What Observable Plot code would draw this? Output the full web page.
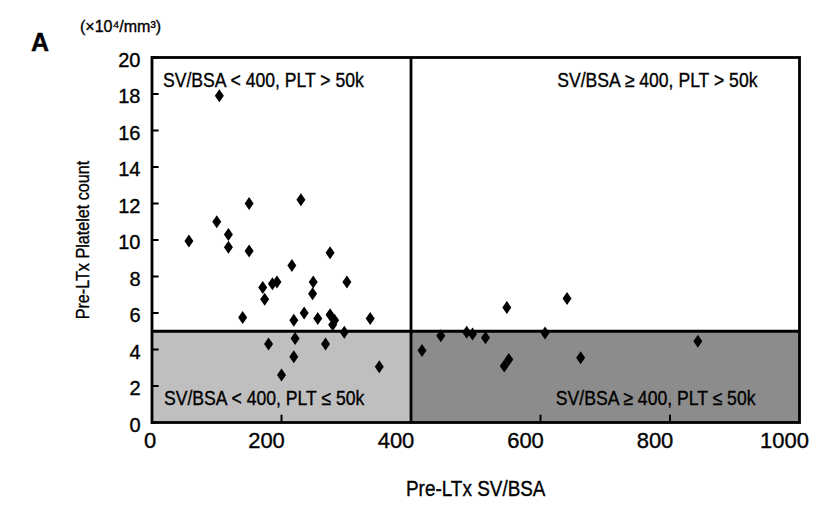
<!DOCTYPE html>
<html><head><meta charset="utf-8">
<script src="https://cdn.jsdelivr.net/npm/d3@7"></script>
<script src="https://cdn.jsdelivr.net/npm/@observablehq/plot@0.6"></script>
<style>body{margin:0;background:#fff} svg text{stroke:#000;stroke-width:0.35px}</style>
</head><body><div id="chart"></div>
<script>
// Data
const svbsa = [104,150,230,100,118,57,118,150,216,275,171,186,193,174,249,248,301,140,219,235,256,275,282,279,337,297,180,221,268,219,200,351,548,641,417,446,486,495,515,607,544,551,662,843];
const plt   = [17.9,12.0,12.2,11.0,10.3,9.95,9.6,9.4,8.6,9.3,7.4,7.6,7.7,6.75,7.7,7.05,7.7,5.75,5.6,6.0,5.7,5.9,5.6,5.35,5.7,4.95,4.3,4.6,4.3,3.6,2.6,3.05,6.3,6.8,3.95,4.75,4.95,4.85,4.65,4.9,3.1,3.45,3.55,4.45];
const xTicks = [0,200,400,600,800,1000];
const yTicks = [0,2,4,6,8,10,12,14,16,18,20];
const xInnerTicks = [200,600,800];
const svCut = 400, pltCut = 5, xMax = 1000, yMax = 20;
const quadrantLabels = ["SV/BSA < 400, PLT > 50k","SV/BSA \u2265 400, PLT > 50k","SV/BSA < 400, PLT \u2264 50k","SV/BSA \u2265 400, PLT \u2264 50k"];
const xTitle = "Pre-LTx SV/BSA";
const yTitle = "Pre-LTx Platelet count";
const unitLabel = "(\u00d710\u2074/mm\u00b3)";
const panelLabel = "A";

const points = svbsa.map((x,i)=>({x, y: plt[i]}));
const font = "'Liberation Sans',Arial,sans-serif";
const tallDiamond = {draw(ctx, size){const r=Math.sqrt(size/Math.PI);const h=r*1.3,w=r*0.9;ctx.moveTo(0,-h);ctx.lineTo(w,0);ctx.lineTo(0,h);ctx.lineTo(-w,0);ctx.closePath();}};
const xAxisOpts = {tickSize: 0, tickPadding: 10, fontSize: 22, label: null, tickFormat: d=>String(d)};

const chart = Plot.plot({
  width: 831, height: 507,
  marginLeft: 151.5, marginRight: 32, marginTop: 57, marginBottom: 85,
  style: {fontFamily: font, background: "#fff", color: "#000", overflow: "visible"},
  x: {domain: [0, xMax]},
  y: {domain: [0, yMax]},
  marks: [
    Plot.rect([{x1:0,x2:svCut}], {x1:"x1", x2:"x2", y1: 0, y2: pltCut, fill: "#bfbfbf"}),
    Plot.rect([{x1:svCut,x2:xMax}], {x1:"x1", x2:"x2", y1: 0, y2: pltCut, fill: "#8c8c8c"}),
    Plot.ruleY([pltCut], {stroke: "#000", strokeWidth: 2.8}),
    Plot.ruleX([svCut], {stroke: "#000", strokeWidth: 2.8}),
    Plot.ruleY(yTicks, {y: d=>d, x1: 0, x2: 11, stroke: "#000", strokeWidth: 2}),
    Plot.ruleX(xInnerTicks, {x: d=>d, y1: 0, y2: 0.4, stroke: "#000", strokeWidth: 2}),
    Plot.dot(points, {x: "x", y: "y", symbol: tallDiamond, r: 5, fill: "#000", stroke: "none"}),
    Plot.frame({stroke: "#000", strokeWidth: 2.8}),
    Plot.axisX({...xAxisOpts, ticks: xTicks.slice(0,1), dx: -2}),
    Plot.axisX({...xAxisOpts, ticks: xTicks.slice(1), dx: -15}),
    Plot.axisY({ticks: yTicks, tickSize: 0, tickPadding: 11.5, dy: 3, fontSize: 20, label: null, tickFormat: d=>String(d)}),
    Plot.text([quadrantLabels[0]], {text: d=>d, frameAnchor: "top-left", dx: 11, dy: 15, textAnchor: "start", fontSize: 20}),
    Plot.text([quadrantLabels[1]], {text: d=>d, frameAnchor: "top-right", dx: -42, dy: 15, textAnchor: "end", fontSize: 20}),
    Plot.text([quadrantLabels[2]], {text: d=>d, frameAnchor: "bottom-left", dx: 12, dy: -18, textAnchor: "start", fontSize: 20}),
    Plot.text([quadrantLabels[3]], {text: d=>d, frameAnchor: "bottom-right", dx: -44, dy: -18, textAnchor: "end", fontSize: 20}),
    Plot.text([yTitle], {text: d=>d, frameAnchor: "left", dx: -69, rotate: -90, textAnchor: "middle", lineAnchor: "middle", fontSize: 19}),
    Plot.text([xTitle], {text: d=>d, frameAnchor: "bottom", dy: 73, fontSize: 22}),
    Plot.text([panelLabel], {text: d=>d, frameAnchor: "top-left", dx: -112, dy: -24, textAnchor: "middle", fontSize: 25, fontWeight: "bold"}),
    Plot.text([unitLabel], {text: d=>d, frameAnchor: "top-left", dx: -72, dy: -37, textAnchor: "start", fontSize: 16})
  ]
});
document.getElementById("chart").appendChild(chart);
// condense text to mimic the narrow typeface of the reference
const squeeze = new Map([[quadrantLabels[0],0.88],[quadrantLabels[1],0.88],[quadrantLabels[2],0.88],[quadrantLabels[3],0.88],[xTitle,0.86],[yTitle,0.85]]);
chart.querySelectorAll("text").forEach(t => {
  const f = squeeze.get(t.textContent);
  if (f) { const L = t.getComputedTextLength(); t.setAttribute("textLength", (L*f).toFixed(1)); t.setAttribute("lengthAdjust", "spacingAndGlyphs"); }
});
</script>
</body></html>
